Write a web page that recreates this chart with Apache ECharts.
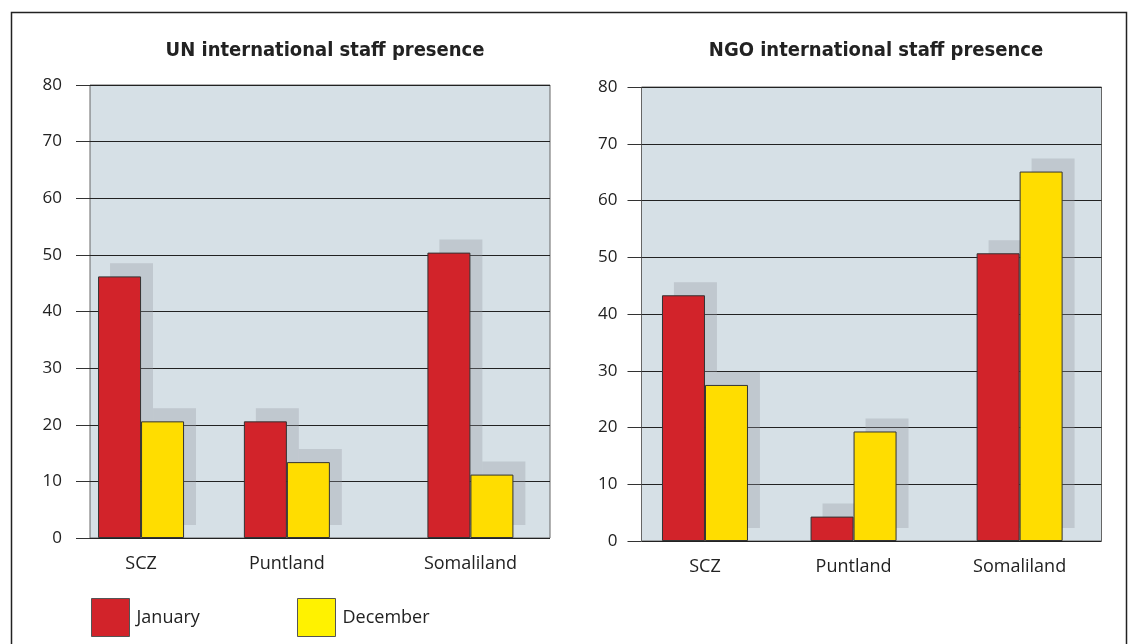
<!DOCTYPE html>
<html>
<head>
<meta charset="utf-8">
<script src="https://cdn.jsdelivr.net/npm/echarts@6/dist/echarts.min.js"></script>
<style>
    html, body { margin: 0; padding: 0; background: #fff; }
    #chart { width: 1131px; height: 644px; }
</style>
</head>
<body>
<div id="chart"></div>
<script>
const categories = ['SCZ', 'Puntland', 'Somaliland'];
const yTicks = [0, 10, 20, 30, 40, 50, 60, 70, 80];

const unJanuary = [46.2, 20.6, 50.4];
const unDecember = [20.6, 13.4, 11.2];
const ngoJanuary = [43.3, 4.3, 50.7];
const ngoDecember = [27.5, 19.3, 65.1];

// where each region group sits along the (hidden) 0-100 x scale
const unSlots = [11.1, 42.8, 82.7];
const ngoSlots = [13.8, 46.1, 82.2];

const RED = '#d2232a';
const YELLOW = '#ffdd00';
const FONT = '"Open Sans", "DejaVu Sans", sans-serif';

// drop shadow: the same bars drawn on shifted twin axes (right / up)
const SHADOW_DX = 2.6;
const SHADOW_DY = 2.3;

const chart = echarts.init(document.getElementById('chart'));

function buildX(gridIndex, slots) {
    return {
        type: 'value',
        gridIndex: gridIndex,
        min: 0,
        max: 100,
        axisLine: {show: false},
        axisTick: {show: false},
        splitLine: {show: false},
        axisLabel: {
            customValues: slots,
            margin: 17,
            fontFamily: FONT,
            fontSize: 18,
            color: '#222',
            formatter: (v) => categories[slots.indexOf(v)] || ''
        }
    }
}

function buildShadowX(gridIndex) {
    return {type: 'value', gridIndex: gridIndex, min: -SHADOW_DX, max: 100 - SHADOW_DX, show: false}
}

function buildY(gridIndex, margin) {
    return {
        type: 'value',
        gridIndex: gridIndex,
        min: yTicks[0],
        max: yTicks[yTicks.length - 1],
        interval: 10,
        axisLine: {show: false},
        axisTick: {show: true, length: 14, lineStyle: {color: '#333'}},
        splitLine: {show: true, lineStyle: {color: '#222', width: 1}},
        axisLabel: {margin: margin, fontFamily: FONT, fontSize: 17, color: '#222'}
    }
}

function buildShadowY(gridIndex) {
    return {type: 'value', gridIndex: gridIndex, min: -SHADOW_DY, max: 80 - SHADOW_DY, show: false}
}

function buildBars(name, values, slots, axisIndex, color) {
    return {
        name: name,
        type: 'bar',
        xAxisIndex: axisIndex,
        yAxisIndex: axisIndex,
        barWidth: 43,
        barGap: '0%',
        z: 3,
        data: values.map((v, i) => [slots[i], v]),
        itemStyle: {color: color, borderColor: '#333', borderWidth: 1},
        emphasis: {disabled: true}
    }
}

function buildShadow(name, values, slots, axisIndex) {
    return {
        name: name + ' shadow',
        type: 'bar',
        xAxisIndex: axisIndex,
        yAxisIndex: axisIndex,
        barWidth: 43,
        barGap: '0%',
        z: 1,
        silent: true,
        data: values.map((v, i) => [slots[i], v]),
        itemStyle: {color: 'rgba(150, 152, 162, 0.33)', borderWidth: 0}
    }
}

function buildLegend(name, left, color) {
    return {
        left: left,
        top: 598,
        padding: 0,
        icon: 'rect',
        itemWidth: 38,
        itemHeight: 38,
        selectedMode: false,
        data: [{name: name, itemStyle: {color: color}}],
        itemStyle: {borderColor: '#555', borderWidth: 1},
        textStyle: {fontFamily: FONT, fontSize: 18, color: '#222', padding: [0, 0, 0, 2]}
    }
}

const titleStyle = {fontFamily: '"DejaVu Sans Condensed", sans-serif', fontWeight: 'bold', fontSize: 20, color: '#222'};

chart.setOption({
    animation: false,
    backgroundColor: '#fff',
    title: [
        {text: 'UN international staff presence', left: 320, top: 36, textAlign: 'center', textStyle: titleStyle},
        {text: 'NGO international staff presence', left: 871, top: 36, textAlign: 'center', textStyle: titleStyle}
    ],
    graphic: [{
        type: 'rect',
        shape: {x: 11.5, y: 12.5, width: 1115, height: 700},
        style: {fill: null, stroke: '#222', lineWidth: 1.5},
        silent: true
    }],
    grid: [
        {left: 90, top: 85, width: 460, height: 453, show: true, backgroundColor: '#d6e0e6', borderColor: '#666', borderWidth: 1},
        {left: 641.5, top: 87, width: 460, height: 454, show: true, backgroundColor: '#d6e0e6', borderColor: '#666', borderWidth: 1}
    ],
    xAxis: [buildX(0, unSlots), buildX(1, ngoSlots), buildShadowX(0), buildShadowX(1)],
    yAxis: [buildY(0, 28), buildY(1, 24), buildShadowY(0), buildShadowY(1)],
    legend: [
        buildLegend('January', 91, RED),
        buildLegend('December', 297, '#fff200')
    ],
    series: [
        buildShadow('January', unJanuary, unSlots, 2),
        buildShadow('December', unDecember, unSlots, 2),
        buildShadow('January', ngoJanuary, ngoSlots, 3),
        buildShadow('December', ngoDecember, ngoSlots, 3),
        buildBars('January', unJanuary, unSlots, 0, RED),
        buildBars('December', unDecember, unSlots, 0, YELLOW),
        buildBars('January', ngoJanuary, ngoSlots, 1, RED),
        buildBars('December', ngoDecember, ngoSlots, 1, YELLOW)
    ]
});
</script>
</body>
</html>
